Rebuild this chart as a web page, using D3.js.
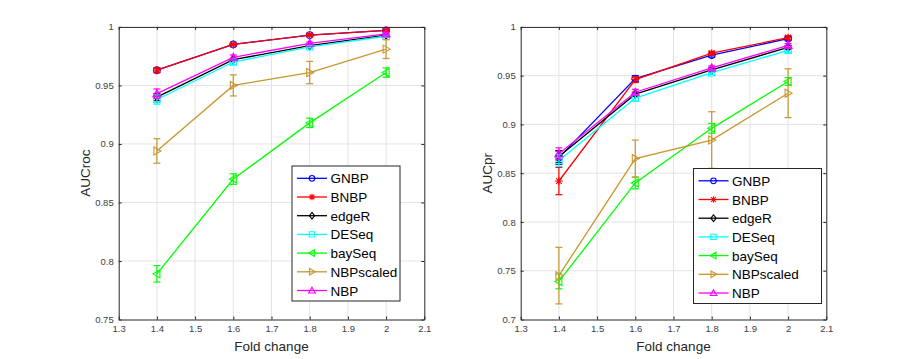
<!DOCTYPE html>
<html>
<head>
<meta charset="utf-8">
<script src="https://cdn.jsdelivr.net/npm/d3@7/dist/d3.min.js"></script>
<style>
  html, body { margin: 0; padding: 0; background: #fff; }
  svg { display: block; font-family: "Liberation Sans", Arial, Helvetica, sans-serif; }
</style>
</head>
<body>
<svg id="chart" width="913" height="359"></svg>
<script>
// ---------------- DATA ----------------
const foldChange = [1.4, 1.6, 1.8, 2.0];
const methods = ["GNBP", "BNBP", "edgeR", "DESeq", "baySeq", "NBPscaled", "NBP"];
const xTicks = [1.3, 1.4, 1.5, 1.6, 1.7, 1.8, 1.9, 2.0, 2.1];
const xTickLabels = ["1.3", "1.4", "1.5", "1.6", "1.7", "1.8", "1.9", "2", "2.1"];

// Left panel: AUCroc
const rocYTicks = [0.75, 0.8, 0.85, 0.9, 0.95, 1];
const rocYTickLabels = ["0.75", "0.8", "0.85", "0.9", "0.95", "1"];
const rocGNBP      = [0.963, 0.985, 0.993, 0.997];
const rocBNBP      = [0.963, 0.985, 0.993, 0.997];
const rocEdgeR     = [0.940, 0.972, 0.984, 0.993];
const rocDESeq     = [0.938, 0.970, 0.983, 0.992];
const rocBaySeq    = [0.789, 0.870, 0.918, 0.961];
const rocNBPscaled = [0.894, 0.950, 0.961, 0.981];
const rocNBP       = [0.943, 0.974, 0.986, 0.994];
const rocErrGNBP      = [0.002, 0.001, 0.001, 0.001];
const rocErrBNBP      = [0.002, 0.001, 0.001, 0.001];
const rocErrEdgeR     = [0.003, 0.001, 0.001, 0.001];
const rocErrDESeq     = [0.004, 0.002, 0.001, 0.001];
const rocErrBaySeq    = [0.007, 0.0045, 0.004, 0.004];
const rocErrNBPscaled = [0.0105, 0.009, 0.0095, 0.008];
const rocErrNBP       = [0.004, 0.002, 0.001, 0.001];

// Right panel: AUCpr
const prYTicks = [0.7, 0.75, 0.8, 0.85, 0.9, 0.95, 1];
const prYTickLabels = ["0.7", "0.75", "0.8", "0.85", "0.9", "0.95", "1"];
const prGNBP      = [0.866, 0.947, 0.971, 0.988];
const prBNBP      = [0.842, 0.946, 0.973, 0.989];
const prEdgeR     = [0.867, 0.931, 0.956, 0.979];
const prDESeq     = [0.863, 0.927, 0.953, 0.976];
const prBaySeq    = [0.739, 0.840, 0.896, 0.944];
const prNBPscaled = [0.745, 0.865, 0.884, 0.932];
const prNBP       = [0.870, 0.933, 0.958, 0.981];
const prErrGNBP      = [0.007, 0.003, 0.002, 0.002];
const prErrBNBP      = [0.014, 0.003, 0.002, 0.002];
const prErrEdgeR     = [0.006, 0.002, 0.002, 0.002];
const prErrDESeq     = [0.006, 0.003, 0.002, 0.002];
const prErrBaySeq    = [0.0075, 0.006, 0.005, 0.004];
const prErrNBPscaled = [0.029, 0.019, 0.029, 0.025];
const prErrNBP       = [0.006, 0.003, 0.002, 0.002];

const colors  = ["#0000ff", "#ff0000", "#000000", "#00ffff", "#00ff00", "#c9952d", "#ff00ff"];
const markers = ["circle", "asterisk", "diamond", "square", "triLeft", "triRight", "triUp"];

// ---------------- HELPERS ----------------
function markerPath(type, s) {
  const p = d3.path();
  switch (type) {
    case "circle": p.arc(0, 0, s * 0.85, 0, 2 * Math.PI); break;
    case "square": p.rect(-s * 0.8, -s * 0.8, s * 1.6, s * 1.6); break;
    case "diamond":
      p.moveTo(0, -s); p.lineTo(s * 0.8, 0); p.lineTo(0, s); p.lineTo(-s * 0.8, 0); p.closePath(); break;
    case "triUp":
      p.moveTo(0, -s); p.lineTo(s, s * 0.75); p.lineTo(-s, s * 0.75); p.closePath(); break;
    case "triLeft":
      p.moveTo(-s, 0); p.lineTo(s * 0.75, -s); p.lineTo(s * 0.75, s); p.closePath(); break;
    case "triRight":
      p.moveTo(s, 0); p.lineTo(-s * 0.75, -s); p.lineTo(-s * 0.75, s); p.closePath(); break;
    case "asterisk":
      p.moveTo(-s, 0); p.lineTo(s, 0);
      p.moveTo(0, -s); p.lineTo(0, s);
      const d = s * 0.72;
      p.moveTo(-d, -d); p.lineTo(d, d);
      p.moveTo(-d, d); p.lineTo(d, -d); break;
  }
  return p.toString();
}

const svg = d3.select("#chart");
const axisColor = "#262626";

function drawPanel(cfg) {
  const x = d3.scaleLinear().domain([1.3, 2.1]).range([cfg.left, cfg.left + 305.6]);
  const y = d3.scaleLinear().domain(cfg.yDomain).range([319.5, 26.9]);
  const g = svg.append("g");

  // grid
  g.append("g").selectAll("line").data(xTicks.slice(1, -1)).join("line")
    .attr("x1", d => x(d)).attr("x2", d => x(d))
    .attr("y1", y.range()[0]).attr("y2", y.range()[1])
    .attr("stroke", "#e3e3e3").attr("stroke-width", 1);
  g.append("g").selectAll("line").data(cfg.yTicks.slice(1, -1)).join("line")
    .attr("y1", d => y(d)).attr("y2", d => y(d))
    .attr("x1", x.range()[0]).attr("x2", x.range()[1])
    .attr("stroke", "#e3e3e3").attr("stroke-width", 1);

  // axes (ticks inward)
  const xAxis = d3.axisBottom(x).tickValues(xTicks).tickFormat((d, i) => xTickLabels[i]).tickSizeInner(-3).tickSizeOuter(0).tickPadding(6);
  const xAxisTop = d3.axisTop(x).tickValues(xTicks).tickFormat("").tickSizeInner(-3).tickSizeOuter(0);
  const yAxis = d3.axisLeft(y).tickValues(cfg.yTicks).tickFormat((d, i) => cfg.yTickLabels[i]).tickSizeInner(-3).tickSizeOuter(0).tickPadding(5);
  const yAxisRight = d3.axisRight(y).tickValues(cfg.yTicks).tickFormat("").tickSizeInner(-3).tickSizeOuter(0);

  const styleAxis = sel => {
    sel.selectAll("path").attr("stroke", axisColor).attr("stroke-width", 1);
    sel.selectAll("line").attr("stroke", axisColor);
    sel.selectAll("text").attr("fill", "#404040").style("font-size", "9.5px")
      .style("font-family", '"Liberation Sans", Arial, sans-serif');
  };
  g.append("g").attr("transform", `translate(0,${y.range()[0]})`).call(xAxis).call(styleAxis);
  g.append("g").attr("transform", `translate(0,${y.range()[1]})`).call(xAxisTop).call(styleAxis);
  g.append("g").attr("transform", `translate(${x.range()[0]},0)`).call(yAxis).call(styleAxis);
  g.append("g").attr("transform", `translate(${x.range()[1]},0)`).call(yAxisRight).call(styleAxis);

  // axis labels
  g.append("text").attr("x", (x.range()[0] + x.range()[1]) / 2).attr("y", 351)
    .attr("text-anchor", "middle").attr("fill", axisColor).style("font-size", "13.5px").text("Fold change");
  g.append("text").attr("transform", `translate(${x.range()[0] - 29},${(y.range()[0] + y.range()[1]) / 2}) rotate(-90)`)
    .attr("text-anchor", "middle").attr("fill", axisColor).style("font-size", "13.5px").text(cfg.yLabel);

  // series
  const line = d3.line().x(d => x(d.x)).y(d => y(d.y));
  cfg.series.forEach((vals, si) => {
    const errs = cfg.errors[si];
    const pts = foldChange.map((fx, i) => ({ x: fx, y: vals[i], e: errs[i] }));
    const sg = g.append("g").attr("stroke", colors[si]).attr("fill", "none");
    // error bars
    pts.forEach(p => {
      const cx = x(p.x), y1 = y(p.y - p.e), y2 = y(p.y + p.e);
      sg.append("line").attr("x1", cx).attr("x2", cx).attr("y1", y1).attr("y2", y2).attr("stroke-width", 1.2);
      sg.append("line").attr("x1", cx - 3.5).attr("x2", cx + 3.5).attr("y1", y1).attr("y2", y1).attr("stroke-width", 1.2);
      sg.append("line").attr("x1", cx - 3.5).attr("x2", cx + 3.5).attr("y1", y2).attr("y2", y2).attr("stroke-width", 1.2);
    });
    sg.append("path").datum(pts).attr("d", line).attr("stroke-width", 1.3);
    sg.selectAll("path.mk").data(pts).join("path").attr("class", "mk")
      .attr("transform", d => `translate(${x(d.x)},${y(d.y)})`)
      .attr("d", markerPath(markers[si], 4)).attr("stroke-width", 1.1);
  });

  // legend
  const L = cfg.legend;
  const lg = svg.append("g");
  lg.append("rect").attr("x", L.x).attr("y", L.y).attr("width", L.w).attr("height", L.h)
    .attr("fill", "#fff").attr("stroke", axisColor).attr("stroke-width", 1);
  methods.forEach((m, i) => {
    const ry = L.y + 12.3 + i * 18.7;
    const row = lg.append("g");
    row.append("line").attr("x1", L.x + 5).attr("x2", L.x + 35).attr("y1", ry).attr("y2", ry)
      .attr("stroke", colors[i]).attr("stroke-width", 1.3);
    row.append("path").attr("transform", `translate(${L.x + 20},${ry})`).attr("d", markerPath(markers[i], 3.3))
      .attr("stroke", colors[i]).attr("fill", "none").attr("stroke-width", 1.1);
    row.append("text").attr("x", L.x + 38.5).attr("y", ry + 5).attr("fill", "#000")
      .style("font-size", "13.5px").text(m);
  });
}

drawPanel({
  left: 118.7, yDomain: [0.75, 1], yTicks: rocYTicks, yTickLabels: rocYTickLabels, yLabel: "AUCroc",
  series: [rocGNBP, rocBNBP, rocEdgeR, rocDESeq, rocBaySeq, rocNBPscaled, rocNBP],
  errors: [rocErrGNBP, rocErrBNBP, rocErrEdgeR, rocErrDESeq, rocErrBaySeq, rocErrNBPscaled, rocErrNBP],
  legend: { x: 292, y: 166, w: 108, h: 135 }
});
drawPanel({
  left: 520.7, yDomain: [0.7, 1], yTicks: prYTicks, yTickLabels: prYTickLabels, yLabel: "AUCpr",
  series: [prGNBP, prBNBP, prEdgeR, prDESeq, prBaySeq, prNBPscaled, prNBP],
  errors: [prErrGNBP, prErrBNBP, prErrEdgeR, prErrDESeq, prErrBaySeq, prErrNBPscaled, prErrNBP],
  legend: { x: 693.5, y: 168.5, w: 128, h: 135 }
});
</script>
</body>
</html>
